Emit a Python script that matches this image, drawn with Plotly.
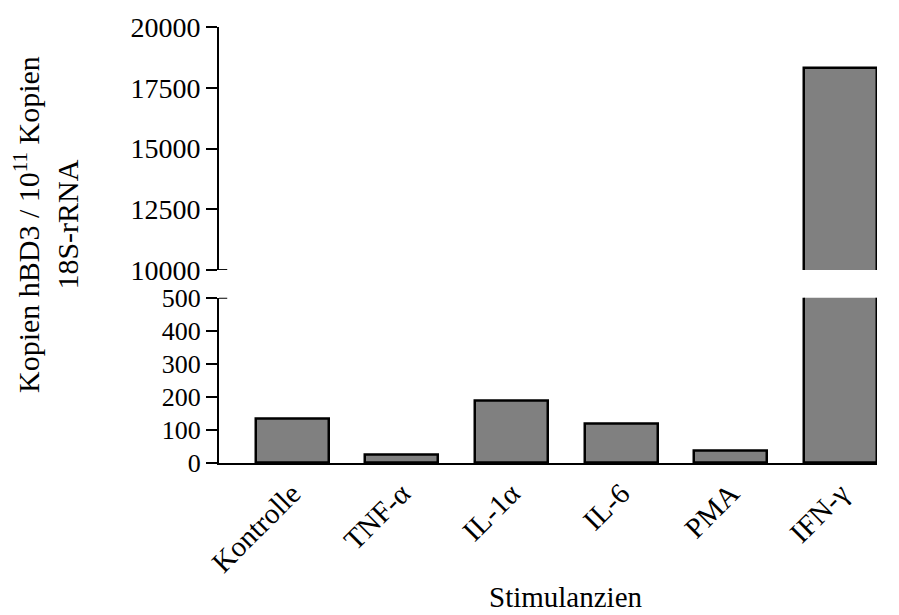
import plotly.graph_objects as go

# hBD3 copies per 10^11 copies 18S-rRNA after stimulation
categories = ["Kontrolle", "TNF-α", "IL-1α", "IL-6", "PMA", "IFN-γ"]
values = [135, 24, 189, 120, 37, 18300]

lower_ticks = [0, 100, 200, 300, 400, 500]
upper_ticks = [10000, 12500, 15000, 17500, 20000]

FONT = "Liberation Serif"
BAR_FILL = "#808080"
LINE = "black"

x_pos = list(range(len(categories)))

fig = go.Figure()
bar_style = dict(
    marker=dict(color=BAR_FILL, line=dict(color=LINE, width=2.5)),
    width=0.667,
    showlegend=False,
    hoverinfo="skip",
)
# lower segment of the broken axis
fig.add_trace(go.Bar(x=x_pos, y=values, xaxis="x", yaxis="y", **bar_style))
# upper segment of the broken axis
fig.add_trace(go.Bar(x=x_pos, y=values, xaxis="x2", yaxis="y2", **bar_style))

x_range = [-0.667, len(categories) - 1 + 0.333]

fig.update_layout(
    width=899,
    height=615,
    margin=dict(l=219, r=22, t=25, b=152),
    paper_bgcolor="white",
    plot_bgcolor="white",
    font=dict(family=FONT, color="black"),
    bargap=0,
    xaxis=dict(
        domain=[0, 1],
        range=x_range,
        tickvals=x_pos,
        ticktext=categories,
        tickangle=-45,
        ticks="",
        showline=True,
        linecolor=LINE,
        linewidth=2,
        showgrid=False,
        zeroline=False,
        anchor="y",
        tickfont=dict(size=29, family=FONT, color="black"),
    ),
    yaxis=dict(
        domain=[0, 0.3793],
        range=[0, 500],
        tickvals=lower_ticks,
        ticktext=[str(v) for v in lower_ticks],
        ticks="outside",
        ticklen=11,
        tickwidth=2,
        tickcolor=LINE,
        showline=True,
        linecolor=LINE,
        linewidth=2,
        showgrid=False,
        zeroline=False,
        anchor="x",
        tickfont=dict(size=26, family=FONT, color="black"),
    ),
    xaxis2=dict(
        domain=[0, 1],
        range=x_range,
        visible=False,
        anchor="y2",
        matches="x",
    ),
    yaxis2=dict(
        domain=[0.4425, 1],
        range=[10000, 20000],
        tickvals=upper_ticks,
        ticktext=[str(v) for v in upper_ticks],
        ticks="outside",
        ticklen=11,
        tickwidth=2,
        tickcolor=LINE,
        showline=True,
        linecolor=LINE,
        linewidth=2,
        showgrid=False,
        zeroline=False,
        anchor="x2",
        tickfont=dict(size=28, family=FONT, color="black"),
    ),
    shapes=[
        # break marks: the ticks next to the gap cross the axis line
        dict(type="line", xref="paper", yref="y", x0=0, x1=0.0125, y0=500, y1=500,
             line=dict(color=LINE, width=2)),
        dict(type="line", xref="paper", yref="y2", x0=0, x1=0.0125, y0=10000, y1=10000,
             line=dict(color=LINE, width=2)),
    ],
    annotations=[
        dict(
            text="Kopien hBD3 / 10<sup>11</sup> Kopien<br>18S-rRNA",
            xref="paper", yref="paper", x=-0.263, y=0.548,
            xanchor="center", yanchor="middle",
            textangle=-90, showarrow=False,
            font=dict(size=30, family=FONT, color="black"),
        ),
        dict(
            text="Stimulanzien",
            xref="paper", yref="paper", x=0.528, y=-0.307,
            xanchor="center", yanchor="middle",
            showarrow=False,
            font=dict(size=29, family=FONT, color="black"),
        ),
    ],
)

fig.write_html("out.html")
